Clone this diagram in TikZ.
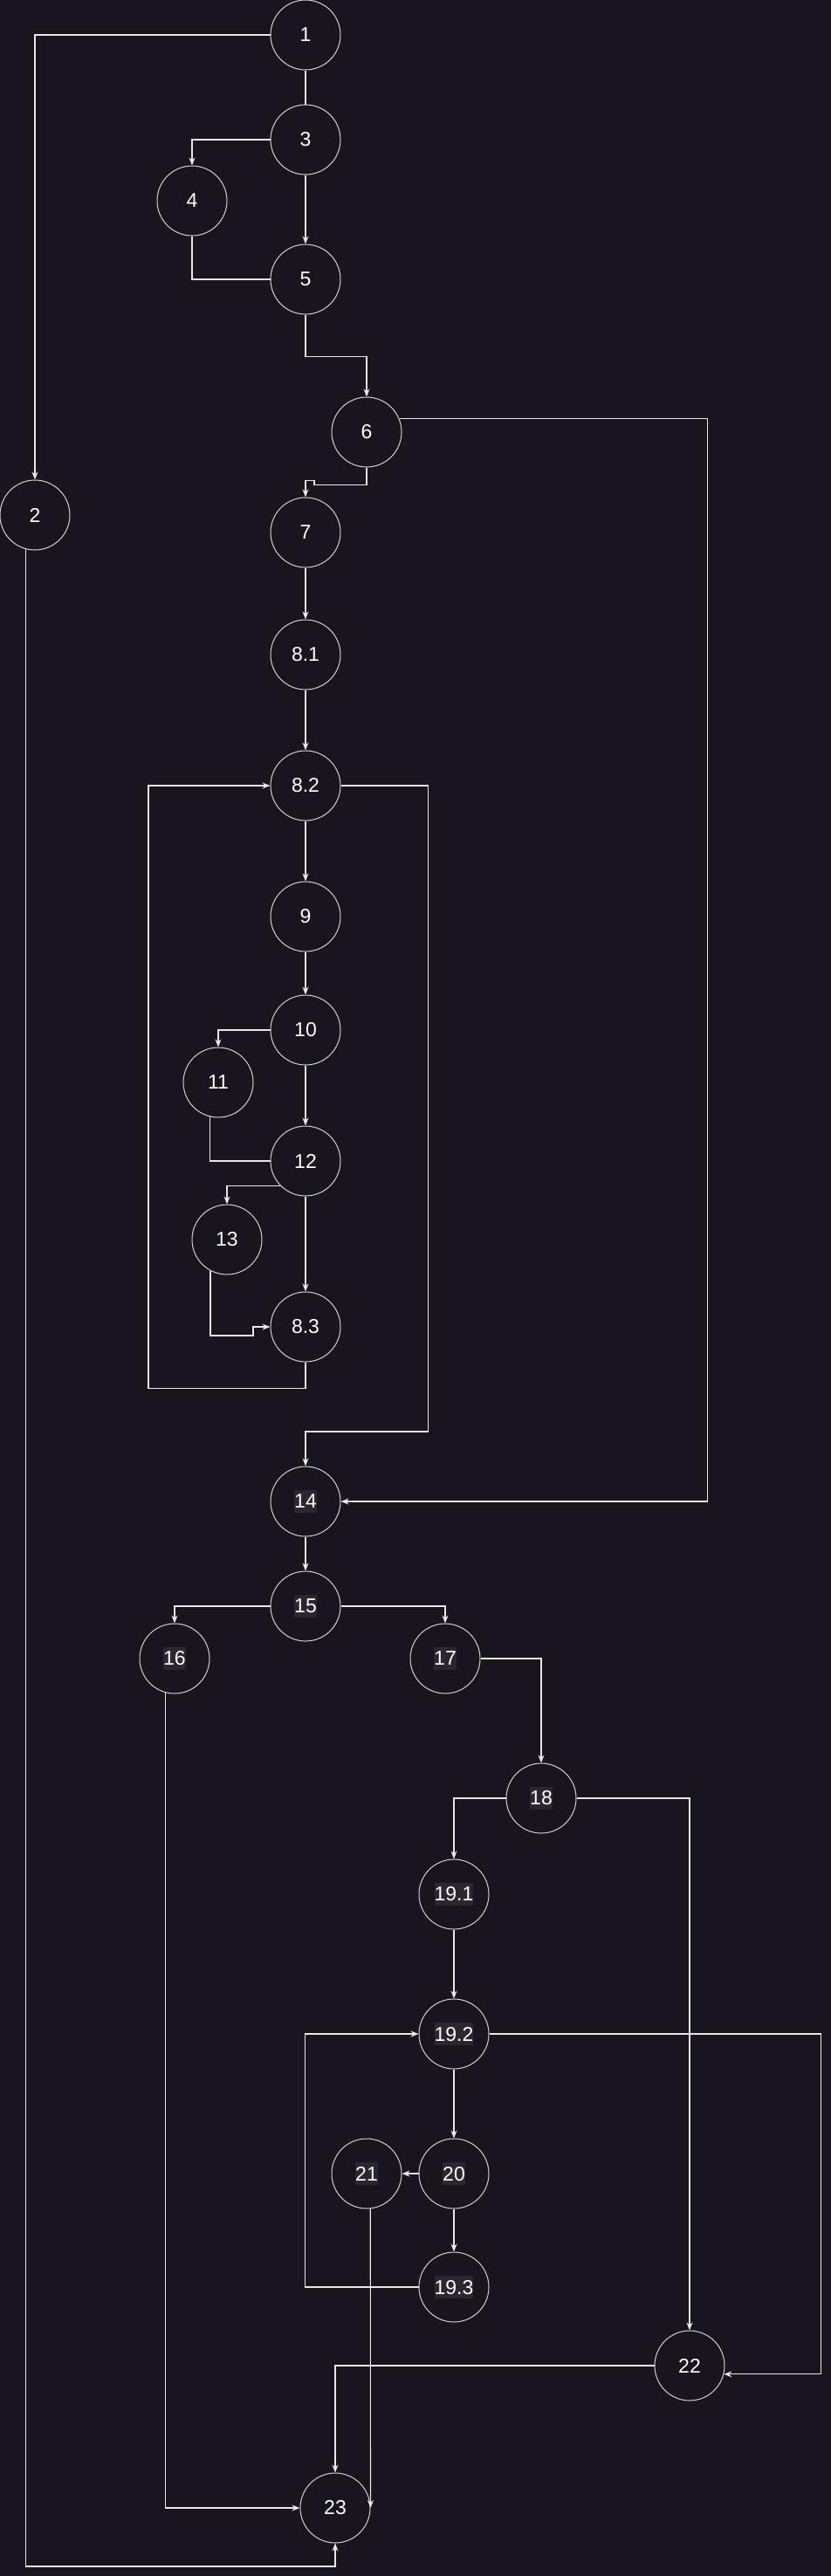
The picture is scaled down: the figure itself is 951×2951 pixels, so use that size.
\documentclass[tikz,border=0pt]{standalone}
\usepackage{fontspec}
\setmainfont{Liberation Sans}
\usetikzlibrary{arrows.meta}

\definecolor{bgdark}{HTML}{18151E}
\definecolor{lblbg}{HTML}{2A2730}
\definecolor{ringgray}{HTML}{D2D2D2}
\definecolor{wiregray}{HTML}{E8E8E8}
\newcommand{\hilite}[1]{{\setlength{\fboxsep}{0pt}\colorbox{lblbg}{\rule[-0.212em]{0pt}{1.117em}#1}}}

\begin{document}
\begin{tikzpicture}[x=1pt, y=-1pt,
  state/.style={circle, draw=ringgray, line width=1pt, minimum size=80pt,
    inner sep=0pt, text=white, font=\fontsize{23}{27}\selectfont},
  wire/.style={draw=wiregray, line width=1.1pt},
  flow/.style={wire, -{Stealth[length=9pt, width=7pt, inset=3pt]}}]
  \useasboundingbox (0,0) rectangle (951,2951);
  \fill[bgdark] (-3,-3) rectangle (954,2954);

  \node[state] (n1) at (350,40) {1};
  \node[state] (n3) at (350,160) {3};
  \node[state] (n4) at (220,230) {4};
  \node[state] (n5) at (350,320) {5};
  \node[state] (n6) at (420,495) {6};
  \node[state] (n2) at (40,590) {2};
  \node[state] (n7) at (350,610) {7};
  \node[state] (n81) at (350,750) {8.1};
  \node[state] (n82) at (350,900) {8.2};
  \node[state] (n9) at (350,1050) {9};
  \node[state] (n10) at (350,1180) {10};
  \node[state] (n11) at (250,1240) {11};
  \node[state] (n12) at (350,1330) {12};
  \node[state] (n13) at (260,1420) {13};
  \node[state] (n83) at (350,1520) {8.3};
  \node[state] (n14) at (350,1720) {\hilite{14}};
  \node[state] (n15) at (350,1840) {\hilite{15}};
  \node[state] (n16) at (200,1900) {\hilite{16}};
  \node[state] (n17) at (510,1900) {\hilite{17}};
  \node[state] (n18) at (620,2060) {\hilite{18}};
  \node[state] (n191) at (520,2170) {\hilite{19.1}};
  \node[state] (n192) at (520,2330) {\hilite{19.2}};
  \node[state] (n20) at (520,2490) {\hilite{20}};
  \node[state] (n21) at (420,2490) {\hilite{21}};
  \node[state] (n193) at (520,2620) {\hilite{19.3}};
  \node[state] (n22) at (790,2710) {22};
  \node[state] (n23) at (384,2873) {23};

  \draw[flow] (n1.west) -| (n2.north);
  \draw[wire] (n1) -- (n3);
  \draw[flow] (n3.west) -| (n4.north);
  \draw[flow] (n3) -- (n5);
  \draw[wire] (n4.south) |- (n5.west);
  \draw[flow] (n5.south) -- ++(0,48) -| (n6.north);
  \draw[flow] (n6.south) -- ++(0,20) -- ++(-60,0) -- ++(0,-5) -| (n7.north);
  \draw[flow] (n6.22) -- ++(353,0) |- (n14.east);
  \draw[flow] (n2.255) -- (n2.255 |- 0,2940) -| (n23.south);
  \draw[flow] (n7) -- (n81);
  \draw[flow] (n81) -- (n82);
  \draw[flow] (n82) -- (n9);
  \draw[flow] (n9) -- (n10);
  \draw[flow] (n82.east) -- ++(100,0) -- ++(0,740) -| (n14.north);
  \draw[flow] (n10.west) -| (n11.north);
  \draw[flow] (n10) -- (n12);
  \draw[wire] (n11.257) |- (n12.west);
  \draw[flow] (n12.225) -| (n13.north);
  \draw[flow] (n12) -- (n83);
  \draw[flow] (n13.242) -- (n13.242 |- 0,1530) -- ++(49,0) |- (n83.west);
  \draw[flow] (n83.south) -- ++(0,30) -- ++(-180,0) |- (n82.west);
  \draw[flow] (n14) -- (n15);
  \draw[flow] (n15.west) -| (n16.north);
  \draw[flow] (n15.east) -| (n17.north);
  \draw[flow] (n17.east) -| (n18.north);
  \draw[flow] (n18.west) -| (n191.north);
  \draw[flow] (n18.east) -| (n22.north);
  \draw[flow] (n16.255) |- (n23.west);
  \draw[flow] (n191) -- (n192);
  \draw[flow] (n192) -- (n20);
  \draw[flow] (n20) -- (n21);
  \draw[flow] (n20) -- (n193);
  \draw[flow] (n193.west) -- ++(-130,0) |- (n192.west);
  \draw[flow] (n192.east) -- ++(380,0) |- (n22.-14.5);
  \draw[flow] (n21.276) -- (n23.east);
  \draw[flow] (n22.west) -| (n23.north);
\end{tikzpicture}
\end{document}
